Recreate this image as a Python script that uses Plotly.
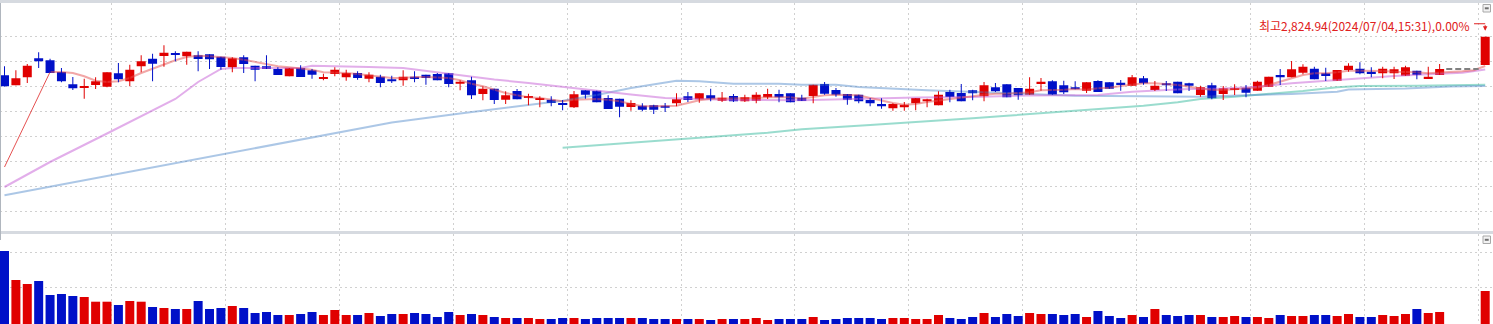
import plotly.graph_objects as go

W, H = 1493, 324

# ---------------- data (price values, one slot per bar; 127-129 empty) ----------------
opens = [
    2821.86, 2821.06, 2821.70, 2823.22, 2823.06, 2822.12, 2821.14, 2820.86, 2821.08, 2820.94,
    2822.02, 2821.38, 2822.58, 2823.18, 2823.40, 2823.64, 2823.38, 2823.46, 2823.54, 2823.34,
    2822.50, 2823.30, 2822.62, 2822.58, 2822.36, 2821.78, 2822.44, 2822.26, 2821.56, 2821.96,
    2821.70, 2822.04, 2821.58, 2821.74, 2821.54, 2821.46, 2821.74, 2821.90, 2821.96, 2822.02,
    2821.18, 2821.46, 2820.36, 2820.78, 2819.90, 2820.60, 2820.10, 2819.88, 2819.90, 2819.62,
    2819.30, 2820.66, 2820.62, 2820.04, 2819.98, 2819.32, 2819.42, 2819.46, 2819.42, 2819.62,
    2820.18, 2819.94, 2820.26, 2819.82, 2820.20, 2819.78, 2819.82, 2820.10, 2820.36, 2820.42,
    2820.06, 2820.20, 2821.16, 2820.68, 2820.36, 2820.30, 2819.88, 2819.56, 2819.22, 2819.30,
    2819.62, 2819.78, 2819.46, 2820.52, 2820.44, 2820.66, 2820.18, 2820.90, 2821.14, 2820.84,
    2820.30, 2821.16, 2821.38, 2821.06, 2820.90, 2820.62, 2821.40, 2821.30, 2821.26, 2821.02,
    2821.62, 2820.68, 2821.22, 2821.34, 2821.22, 2820.28, 2821.06, 2820.36, 2820.68, 2820.86,
    2820.62, 2820.94, 2821.88, 2821.70, 2822.06, 2822.38, 2822.02, 2821.42, 2822.28, 2822.38,
    2822.14, 2822.02, 2822.02, 2821.82, 2822.22, 2821.62, 2821.88, None, None, None, 2822.68]

closes = [
    2820.98, 2821.62, 2822.62, 2822.98, 2822.04, 2821.38, 2820.82, 2820.94, 2821.38, 2822.10,
    2821.54, 2822.30, 2822.98, 2822.78, 2823.66, 2823.48, 2823.74, 2823.16, 2823.14, 2822.52,
    2823.22, 2822.76, 2822.30, 2822.36, 2821.88, 2822.44, 2821.72, 2821.90, 2821.72, 2822.30,
    2822.04, 2821.64, 2821.90, 2821.24, 2821.38, 2821.74, 2821.56, 2821.64, 2821.46, 2821.16,
    2821.34, 2820.26, 2820.78, 2819.88, 2820.26, 2819.94, 2820.20, 2819.98, 2819.64, 2819.48,
    2820.34, 2820.30, 2819.70, 2819.16, 2819.34, 2819.64, 2819.10, 2819.10, 2819.26, 2819.94,
    2819.88, 2820.42, 2819.98, 2820.06, 2819.78, 2820.10, 2820.30, 2820.36, 2820.10, 2819.70,
    2819.80, 2821.10, 2820.38, 2820.30, 2819.90, 2819.78, 2819.62, 2819.38, 2819.56, 2819.50,
    2820.04, 2819.94, 2820.30, 2820.12, 2819.78, 2820.42, 2821.06, 2820.58, 2820.10, 2820.26,
    2820.78, 2821.34, 2820.30, 2820.50, 2820.74, 2821.30, 2820.52, 2820.78, 2821.08, 2821.70,
    2821.22, 2821.02, 2821.06, 2820.42, 2821.02, 2820.90, 2820.02, 2820.82, 2820.82, 2820.46,
    2821.34, 2821.74, 2821.70, 2822.34, 2822.54, 2821.54, 2821.80, 2822.28, 2822.62, 2822.02,
    2822.02, 2822.38, 2822.34, 2822.50, 2821.88, 2821.74, 2822.36, None, None, None, 2824.94]

highs = [
    2822.58, 2822.26, 2822.76, 2823.70, 2823.18, 2822.44, 2821.72, 2821.58, 2821.70, 2822.10,
    2822.84, 2822.70, 2823.46, 2823.58, 2824.26, 2823.78, 2823.74, 2823.78, 2823.54, 2823.34,
    2823.30, 2823.46, 2822.62, 2823.46, 2822.50, 2822.44, 2822.66, 2822.36, 2821.98, 2822.50,
    2822.30, 2822.18, 2822.10, 2821.90, 2821.82, 2822.26, 2822.18, 2821.90, 2822.04, 2822.02,
    2821.46, 2821.74, 2820.98, 2820.78, 2820.58, 2820.76, 2820.38, 2820.18, 2820.18, 2819.88,
    2820.60, 2820.66, 2820.62, 2820.26, 2819.98, 2819.86, 2819.62, 2819.50, 2819.64, 2820.42,
    2820.52, 2820.42, 2820.78, 2820.52, 2820.36, 2820.30, 2820.50, 2820.78, 2820.70, 2820.42,
    2820.30, 2821.10, 2821.32, 2820.84, 2820.36, 2820.30, 2820.04, 2820.02, 2819.62, 2819.72,
    2820.04, 2819.98, 2820.58, 2820.70, 2821.16, 2820.70, 2821.32, 2821.24, 2821.14, 2820.84,
    2821.70, 2821.64, 2821.46, 2821.42, 2821.38, 2821.30, 2821.46, 2821.30, 2821.48, 2821.88,
    2821.80, 2821.40, 2821.40, 2821.34, 2821.26, 2821.02, 2821.26, 2821.00, 2821.14, 2821.08,
    2821.42, 2821.74, 2822.36, 2823.00, 2822.74, 2822.54, 2822.46, 2822.28, 2822.82, 2822.90,
    2822.50, 2822.54, 2822.54, 2822.62, 2822.22, 2822.54, 2822.76, None, None, None, 2824.94]

lows = [
    2820.96, 2821.06, 2821.24, 2822.44, 2822.04, 2821.30, 2820.68, 2819.98, 2820.76, 2820.90,
    2821.30, 2820.98, 2822.10, 2821.38, 2822.54, 2822.98, 2822.70, 2822.18, 2822.36, 2822.30,
    2822.10, 2822.04, 2821.38, 2822.36, 2821.88, 2821.78, 2821.72, 2821.58, 2821.46, 2821.78,
    2821.42, 2821.50, 2821.30, 2820.90, 2821.24, 2821.02, 2821.30, 2821.10, 2821.46, 2820.90,
    2820.66, 2819.96, 2819.86, 2819.56, 2819.56, 2819.94, 2819.46, 2819.30, 2819.38, 2819.06,
    2819.24, 2819.98, 2819.70, 2819.16, 2818.50, 2819.02, 2818.98, 2818.76, 2818.92, 2819.38,
    2819.72, 2819.66, 2819.78, 2819.72, 2819.72, 2819.72, 2819.62, 2819.96, 2819.70, 2819.70,
    2819.80, 2819.62, 2820.30, 2820.14, 2819.50, 2819.62, 2819.38, 2819.18, 2819.02, 2819.02,
    2819.06, 2819.30, 2819.46, 2819.70, 2819.78, 2819.86, 2819.78, 2820.52, 2820.10, 2819.90,
    2820.30, 2820.62, 2820.30, 2820.36, 2820.74, 2820.44, 2820.52, 2820.78, 2820.62, 2821.02,
    2821.10, 2820.60, 2820.60, 2820.42, 2820.60, 2820.14, 2819.94, 2819.88, 2820.28, 2820.10,
    2820.62, 2820.94, 2821.08, 2821.70, 2821.94, 2821.54, 2821.40, 2821.42, 2822.14, 2821.94,
    2821.70, 2821.62, 2821.56, 2821.82, 2821.54, 2821.62, 2821.88, None, None, None, 2822.68]

volumes = [
    7300, 4400, 4000, 4300, 2900, 3000, 2800, 2700, 2230, 2230,
    1900, 2300, 2230, 1700, 1600, 1500, 1500, 2300, 1500, 1600,
    1800, 1600, 1100, 1200, 900, 900, 1000, 1200, 900, 1400,
    900, 900, 1100, 800, 1000, 1000, 1100, 1000, 700, 1200,
    900, 1000, 900, 700, 600, 600, 600, 500, 500, 600,
    600, 500, 600, 600, 600, 600, 600, 500, 500, 500,
    500, 500, 400, 500, 500, 500, 600, 400, 500, 500,
    500, 700, 400, 500, 600, 600, 600, 500, 600, 600,
    500, 500, 900, 600, 500, 700, 1100, 700, 1000, 800,
    1100, 1000, 1000, 900, 1000, 700, 1300, 800, 600, 900,
    700, 1500, 900, 800, 900, 900, 700, 700, 800, 700,
    700, 600, 900, 800, 800, 900, 900, 800, 1000, 700,
    700, 900, 800, 1000, 1500, 1100, 1200, None, None, None, 3300]

ma5 = [
    2814.52, 2816.44, 2818.36, 2820.24, 2822.12, 2822.12, 2822.04, 2821.78, 2821.42, 2821.32,
    2821.38, 2821.64, 2822.04, 2822.38, 2822.76, 2823.06, 2823.32, 2823.42, 2823.38, 2823.32,
    2823.24, 2823.10, 2822.92, 2822.76, 2822.58, 2822.50, 2822.38, 2822.30, 2822.10, 2822.10,
    2822.04, 2821.96, 2821.86, 2821.72, 2821.64, 2821.64, 2821.72, 2821.72, 2821.70, 2821.64,
    2821.46, 2821.18, 2820.98, 2820.70, 2820.44, 2820.26, 2820.10, 2820.04, 2819.90, 2819.78,
    2819.90, 2819.96, 2819.96, 2819.90, 2819.78, 2819.56, 2819.38, 2819.38, 2819.38, 2819.42,
    2819.64, 2819.86, 2819.98, 2819.98, 2819.98, 2820.04, 2820.04, 2820.10, 2820.12, 2820.10,
    2819.98, 2820.12, 2820.26, 2820.30, 2820.30, 2820.26, 2820.04, 2819.82, 2819.64, 2819.50,
    2819.56, 2819.72, 2819.82, 2819.96, 2820.04, 2820.18, 2820.30, 2820.38, 2820.38, 2820.44,
    2820.50, 2820.66, 2820.66, 2820.70, 2820.76, 2820.70, 2820.82, 2820.86, 2821.00, 2821.08,
    2821.22, 2821.22, 2821.16, 2821.08, 2820.94, 2820.82, 2820.68, 2820.68, 2820.74, 2820.76,
    2820.86, 2821.08, 2821.34, 2821.62, 2821.88, 2822.02, 2822.02, 2822.10, 2822.22, 2822.22,
    2822.22, 2822.20, 2822.14, 2822.14, 2822.10, 2822.02, 2822.06, 2822.12, 2822.18, 2822.26, 2822.60]

ma20_bar = [0, 4, 9, 11, 13, 15, 17, 19, 20, 26, 27, 31, 32, 35, 37, 40, 43, 46, 49, 52, 55, 58,
            61, 64, 70, 75, 80, 85, 90, 96, 99, 102, 104, 107, 110, 113, 116, 119, 122, 125, 128, 130]
ma20_val = [2812.92, 2814.92, 2817.20, 2818.12, 2819.00, 2819.96, 2821.32, 2822.36, 2822.44, 2822.44,
            2822.62, 2822.58, 2822.52, 2822.44, 2822.20, 2821.88, 2821.52, 2821.24, 2820.92, 2820.60,
            2820.32, 2820.04, 2819.96, 2819.88, 2819.86, 2820.00, 2820.08, 2820.12, 2820.24, 2820.28,
            2820.54, 2820.68, 2820.76, 2820.81, 2820.94, 2821.22, 2821.42, 2821.62, 2821.80, 2821.94,
            2822.06, 2822.32]

ma60_bar = [0, 13, 26, 34, 40, 46, 49, 52, 55, 59, 61, 64, 68, 70, 73, 75, 78, 81, 84, 88, 94,
            100, 105, 109, 113, 117, 118, 123, 125, 127, 130]
ma60_val = [2812.26, 2814.50, 2816.74, 2818.08, 2818.80, 2819.48, 2819.82, 2820.28, 2820.84, 2821.42,
            2821.38, 2821.18, 2821.18, 2821.10, 2821.10, 2820.92, 2820.76, 2820.66, 2820.56, 2820.41,
            2820.22, 2820.18, 2820.14, 2820.26, 2820.36, 2820.54, 2820.72, 2820.80, 2820.90, 2820.96,
            2821.00]

ma120_bar = [49, 52, 55, 58, 61, 64, 67, 70, 73, 76, 79, 82, 85, 88, 91, 94, 97, 100, 103, 105,
             108, 111, 114, 117, 119, 124, 130]
ma120_val = [2816.06, 2816.26, 2816.46, 2816.62, 2816.84, 2817.02, 2817.26, 2817.54, 2817.74, 2817.88,
             2818.06, 2818.22, 2818.42, 2818.62, 2818.82, 2819.00, 2819.22, 2819.42, 2819.70, 2819.96,
             2820.14, 2820.34, 2820.60, 2820.90, 2821.00, 2821.02, 2821.10]

hi_label = "최고2,824.94(2024/07/04,15:31),0.00%"
gap = [127, 128, 129]

# ---------------- styles ----------------
RED, BLUE = "#e00000", "#0010c8"
GRID = "#d0d0d0"
BODY_W = 0.79

X_RANGE = [-0.395, 130.685]
P_DOM = [1 - 231 / H, 1 - 3 / H]
P_RANGE = [2809.40, 2827.64]
V_DOM = [0, 1 - 234 / H]
V_RANGE = [0, 9000]
price_per_px = (P_RANGE[1] - P_RANGE[0]) / (H * (P_DOM[1] - P_DOM[0]))

n = len(opens)
idx = list(range(n))
valid = [i for i in idx if opens[i] is not None]
up = [i for i in valid if closes[i] >= opens[i]]
dn = [i for i in valid if closes[i] < opens[i]]

fig = go.Figure()

# moving averages (semi-transparent like the reference)
fig.add_trace(go.Scatter(x=ma120_bar, y=ma120_val, mode="lines",
                         line=dict(color="rgba(40,180,150,0.47)", width=2), hoverinfo="skip"))
fig.add_trace(go.Scatter(x=ma60_bar, y=ma60_val, mode="lines",
                         line=dict(color="rgba(70,130,200,0.45)", width=2), hoverinfo="skip"))
fig.add_trace(go.Scatter(x=ma20_bar, y=ma20_val, mode="lines",
                         line=dict(color="rgba(200,100,215,0.52)", width=2), hoverinfo="skip"))
fig.add_trace(go.Scatter(x=idx[:5], y=ma5[:5], mode="lines",
                         line=dict(color="rgba(225,50,50,0.85)", width=1), hoverinfo="skip"))
fig.add_trace(go.Scatter(x=idx[4:], y=ma5[4:], mode="lines",
                         line=dict(color="rgba(230,80,80,0.5)", width=2), hoverinfo="skip"))

# gap connector at previous close
prev_close = closes[gap[0] - 1]
fig.add_trace(go.Scatter(x=[gap[0] - 0.42, gap[-1] + 0.42], y=[prev_close, prev_close], mode="lines",
                         line=dict(color="#808080", width=2, dash="6px,3px"), hoverinfo="skip"))

# wicks
for sel, col in ((up, RED), (dn, BLUE)):
    wx, wy = [], []
    for i in sel:
        wx += [i, i, None]
        wy += [lows[i], highs[i], None]
    fig.add_trace(go.Scatter(x=wx, y=wy, mode="lines", line=dict(color=col, width=1),
                             hoverinfo="skip"))

# bodies
for sel, col in ((up, RED), (dn, BLUE)):
    fig.add_trace(go.Bar(
        x=sel,
        y=[max(abs(closes[i] - opens[i]), 0.07) for i in sel],
        base=[min(opens[i], closes[i]) for i in sel],
        width=BODY_W, marker=dict(color=col, line=dict(width=0)), hoverinfo="skip"))

# volume
for sel, col in ((up, RED), (dn, BLUE)):
    fig.add_trace(go.Bar(x=sel, y=[volumes[i] for i in sel], width=BODY_W,
                         marker=dict(color=col, line=dict(width=0)),
                         xaxis="x2", yaxis="y2", hoverinfo="skip"))

last = valid[-1]
grid_x = [9.4 + 10 * k for k in range(13)]

axis_common = dict(showticklabels=False, ticks="", zeroline=False, showline=False,
                   showgrid=True, gridcolor=GRID, gridwidth=1)

fig.update_layout(
    width=W, height=H, autosize=False,
    margin=dict(l=0, r=0, t=0, b=0, pad=0),
    paper_bgcolor="white", plot_bgcolor="white",
    showlegend=False, barmode="overlay",
    xaxis=dict(domain=[0, 1], range=X_RANGE, tickvals=grid_x, griddash="2px,3px",
               anchor="y", **axis_common),
    yaxis=dict(domain=P_DOM, range=P_RANGE, tickvals=[2811, 2813, 2815, 2817, 2819, 2821, 2823, 2825],
               griddash="2px,3px", anchor="x", **axis_common),
    xaxis2=dict(domain=[0, 1], range=X_RANGE, tickvals=grid_x, griddash="2px,3px",
                anchor="y2", **axis_common),
    yaxis2=dict(domain=V_DOM, range=V_RANGE, tickvals=[3700, 7200], griddash="2px,3px",
                anchor="x2", **axis_common),
)

def py(pix):
    return 1 - pix / H

def px(pix):
    return pix / W

shapes = [
    # panel frames
    dict(type="rect", xref="paper", yref="paper", x0=0, x1=1, y0=py(3), y1=py(0),
         fillcolor="#d6dae0", line=dict(width=0), layer="above"),
    dict(type="rect", xref="paper", yref="paper", x0=0, x1=1, y0=py(234), y1=py(231),
         fillcolor="#d6dae0", line=dict(width=0), layer="above"),
    dict(type="line", xref="paper", yref="paper", x0=px(0.5), x1=px(0.5), y0=py(240), y1=py(3),
         line=dict(color="#b0b6be", width=1), layer="above"),
    # small panel buttons
    dict(type="rect", xref="paper", yref="paper", x0=px(1483), x1=px(1490.5), y0=py(12), y1=py(4.5),
         fillcolor="#f2f2f2", line=dict(color="#a8a8a8", width=1), layer="above"),
    dict(type="rect", xref="paper", yref="paper", x0=px(1484.8), x1=px(1488.7), y0=py(9.3), y1=py(7.3),
         fillcolor="#707070", line=dict(width=0), layer="above"),
    dict(type="rect", xref="paper", yref="paper", x0=px(1483), x1=px(1490.5), y0=py(243.5), y1=py(236),
         fillcolor="#f2f2f2", line=dict(color="#a8a8a8", width=1), layer="above"),
    dict(type="rect", xref="paper", yref="paper", x0=px(1484.8), x1=px(1488.7), y0=py(240.8), y1=py(238.8),
         fillcolor="#707070", line=dict(width=0), layer="above"),
    # horizontal part of the high marker
    dict(type="line", xref="x", yref="y", x0=last - 0.98, x1=last,
         y0=highs[last] + 13 * price_per_px, y1=highs[last] + 13 * price_per_px,
         line=dict(color="#e02020", width=1), layer="above"),
]
fig.update_layout(shapes=shapes)

fig.add_annotation(x=last, y=highs[last], xref="x", yref="y", text="", showarrow=True,
                   ax=0, ay=-13, axref="pixel", ayref="pixel", standoff=6,
                   arrowhead=2, arrowsize=0.9, arrowwidth=1, arrowcolor="#e02020")
fig.add_annotation(x=last, y=highs[last], xref="x", yref="y", text=hi_label, showarrow=False,
                   xanchor="right", yanchor="middle", xshift=-13, yshift=11.5,
                   font=dict(family="Noto Sans CJK KR", size=12, color="#e02020"))

fig.write_html("out.html", config={"displayModeBar": False})
